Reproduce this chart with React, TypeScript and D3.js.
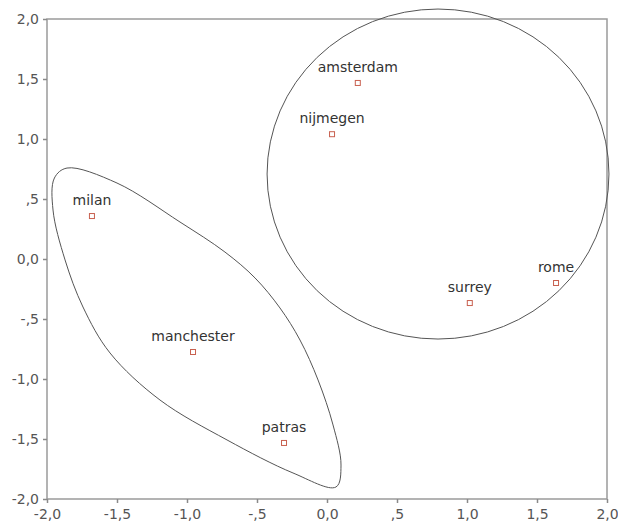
import React, { useEffect, useRef } from "react";
import * as d3 from "d3";

// city positions (dimension 1, dimension 2)
const cities = ["amsterdam", "nijmegen", "rome", "surrey", "milan", "manchester", "patras"];
const dim1 = [0.22, 0.036, 1.636, 1.02, -1.679, -0.957, -0.307];
const dim2 = [1.467, 1.04, -0.2, -0.367, 0.358, -0.775, -1.533];

const tickValues = [-2, -1.5, -1, -0.5, 0, 0.5, 1, 1.5, 2];
const tickLabels = ["-2,0", "-1,5", "-1,0", "-,5", "0,0", ",5", "1,0", "1,5", "2,0"];

// hand drawn groupings
const ringCenter = [0.793, 0.708];
const ringRadius = [1.221, 1.375];
const blobX = [-1.857, -1.5, -1.05, -0.729, -0.514, -0.336, -0.193, -0.064, 0.043, 0.1, 0.064, -0.243, -0.714, -1.193, -1.55, -1.743, -1.871, -1.957, -1.947];
const blobY = [0.758, 0.633, 0.308, 0.058, -0.158, -0.408, -0.675, -1.008, -1.383, -1.717, -1.9, -1.783, -1.508, -1.175, -0.783, -0.4, -0.008, 0.408, 0.675];

const App: React.FC = () => {
  const svgRef = useRef<SVGSVGElement>(null);

  useEffect(() => {
    if (!svgRef.current) return;
    d3.select(svgRef.current).selectAll("*").remove();
    const width = 618;
    const height = 521;
    const margin = { top: 19, right: 11, bottom: 22, left: 47 };

    const svg = d3.select(svgRef.current).attr("width", width).attr("height", height);
    const font = "'DejaVu Sans', sans-serif";

    const x = d3.scaleLinear().domain([-2, 2]).range([margin.left, width - margin.right]);
    const y = d3.scaleLinear().domain([-2, 2]).range([height - margin.bottom, margin.top]);
    const label = (v: number) => tickLabels[tickValues.indexOf(v)];

    // frame
    svg
      .append("rect")
      .attr("x", x(-2))
      .attr("y", y(2))
      .attr("width", x(2) - x(-2))
      .attr("height", y(-2) - y(2))
      .attr("fill", "none")
      .attr("stroke", "#9a9a9a")
      .attr("stroke-width", 1.5);

    const xAxis = svg
      .append("g")
      .attr("transform", `translate(0,${y(-2)})`)
      .call(d3.axisBottom(x).tickValues(tickValues).tickFormat((d) => label(+d)).tickSize(4).tickPadding(5));
    const yAxis = svg
      .append("g")
      .attr("transform", `translate(${x(-2)},0)`)
      .call(d3.axisLeft(y).tickValues(tickValues).tickFormat((d) => label(+d)).tickSize(4).tickPadding(4));

    [xAxis, yAxis].forEach((g) => {
      g.select(".domain").remove();
      g.selectAll("line").attr("stroke", "#8a8a8a").attr("stroke-width", 1.5);
      g.selectAll("text")
        .attr("fill", "#555")
        .style("font-family", font)
        .style("font-size", "14px");
    });
    xAxis.selectAll("text").attr("dy", "0.8em");

    // circle around the first group
    svg
      .append("ellipse")
      .attr("cx", x(ringCenter[0]))
      .attr("cy", y(ringCenter[1]))
      .attr("rx", x(ringCenter[0] + ringRadius[0]) - x(ringCenter[0]))
      .attr("ry", y(ringCenter[1]) - y(ringCenter[1] + ringRadius[1]))
      .attr("fill", "none")
      .attr("stroke", "#555")
      .attr("stroke-width", 1);

    // blob around the second group
    const blob = d3
      .line<number>()
      .x((_, i) => x(blobX[i]))
      .y((_, i) => y(blobY[i]))
      .curve(d3.curveCatmullRomClosed.alpha(0.5));
    svg
      .append("path")
      .attr("d", blob(blobX) || "")
      .attr("fill", "none")
      .attr("stroke", "#555")
      .attr("stroke-width", 1);

    const pts = svg.selectAll(".pt").data(cities).enter().append("g");
    pts
      .append("rect")
      .attr("x", (_, i) => x(dim1[i]) - 2.5)
      .attr("y", (_, i) => y(dim2[i]) - 2.5)
      .attr("width", 5)
      .attr("height", 5)
      .attr("fill", "none")
      .attr("stroke", "#c8604f")
      .attr("stroke-width", 1);
    pts
      .append("text")
      .attr("x", (_, i) => x(dim1[i]))
      .attr("y", (_, i) => y(dim2[i]) - 11)
      .attr("text-anchor", "middle")
      .attr("fill", "#333")
      .style("font-family", font)
      .style("font-size", "14px")
      .text((d) => d);
  }, []);

  return (
    <svg
      ref={svgRef}
      style={{ position: "absolute", left: 0, top: 0, background: "#fff" }}
    />
  );
};

export default App;
